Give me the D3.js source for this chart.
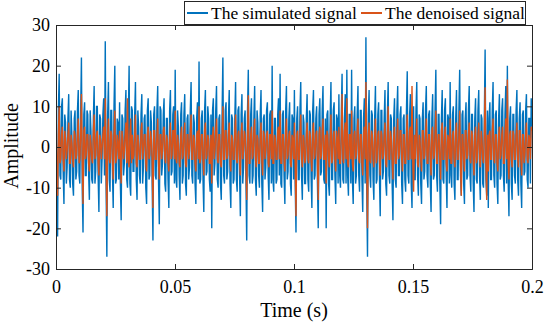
<!DOCTYPE html>
<html>
<head>
<meta charset="utf-8">
<script src="https://cdn.jsdelivr.net/npm/d3@7"></script>
<style>
    body { margin: 0; background: #fff; }
    text { font-family: "Liberation Serif", "Times New Roman", serif; fill: #000; }
</style>
</head>
<body>
<div id="chart"></div>
<script>
const seriesNames = ["The simulated signal", "The denoised signal"];
const xTicks = [0, 0.05, 0.1, 0.15, 0.2];
const yTicks = [-30, -20, -10, 0, 10, 20, 30];

// simulated signal, 600 samples over 0..0.2 s
const simulated = [
    5, -8, -22, 9, 18, -7, -8, 10, 12, -6, -14, 8, 6, -9, -5, 7, 13, -8, -10, 9,
    3, -9, -12, 7, 9, -8, -6, 9, 14, -7, -9, 8, 22, -10, -21, 8, 11, -7, -7, 9,
    8, -6, -13, 9, 4, -8, -9, 7, 15, -9, -6, 10, 10, -7, -16, 8, 7, -9, -3, 8,
    12, -7, 26, -9, -27, 8, 16, -8, -11, 9, 9, -6, -15, 10, 20, -9, -8, 7, 6, -8,
    11, -9, -18, 8, 7, -7, -4, 9, 14, -8, -10, 7, 20, -9, -12, 10, 9, -6, -6, 8,
    16, -8, -13, 9, 5, -7, -9, 8, 13, -9, -5, 7, 8, -10, -14, 9, 12, -8, -7, 9,
    6, -9, -23, 8, 10, -7, -8, 9, 15, -8, -19, 10, 9, -7, -4, 8, 12, -9, -11, 7,
    7, -8, -15, 9, 14, -7, -6, 8, 10, -9, 19, -8, -10, 9, 5, -7, -13, 8, 11, -9,
    -7, 8, 13, -9, -12, 7, 8, -8, -5, 9, 16, -7, -9, 8, 6, -9, -14, 7, 11, -8,
    21, -9, -8, 7, 9, -8, -16, 9, 14, -7, -6, 10, 7, -8, -11, 8, -20, 9, 12, -7,
    -4, 9, 15, -8, -10, 7, 8, -9, -13, 8, 22, -7, -9, 9, 11, -8, -6, 7, 14, -9,
    -15, 8, 7, -9, -8, 7, 16, -8, -11, 9, 10, -7, -17, 8, 13, -9, -5, 7, 9, -8,
    -23, 9, 19, -7, -9, 8, 12, -9, -7, 7, 15, -8, -12, 9, 6, -7, -10, 8, 14, -9,
    -16, 7, 8, -8, -5, 9, 11, -7, -13, 8, 9, -9, 20, -8, -11, 7, 7, -9, -8, 8,
    12, -7, 18, -9, -10, 8, 9, -7, -14, 9, 15, -8, -6, 7, 11, -9, -12, 8, 7, -8,
    14, -9, -21, 7, 10, -8, -8, 9, 16, -7, -13, 8, 6, -9, -9, 7, 13, -8, -11, 9,
    8, -7, -15, 9, 14, -8, -7, 7, 10, -9, -20, 8, 12, -7, -6, 9, 15, -8, -9, 7,
    -20, 8, 9, -9, -12, 7, 16, -8, -8, 9, 11, -7, -14, 8, 7, -9, 13, -7, -10, 8,
    18, -8, -9, 7, 13, -9, 19, -7, -12, 8, 8, -9, 19, -8, -14, 7, 10, -9, -7, 8,
    15, -7, -11, 9, 9, -8, -16, 7, 12, -9, 27, -10, -27, 8, 14, -7, -10, 9, 8, -8,
    -13, 7, 15, -9, -8, 8, 11, -7, -17, 9, 9, -8, -6, 7, 14, -9, -12, 8, 16, -7,
    -9, 8, 7, -9, -18, 7, 12, -8, -10, 9, 15, -7, -7, 8, 10, -9, -14, 7, 8, -8,
    -11, 9, 18.6, -7, -9, 8, 13, -9, -15, 7, 10, -8, -8, 9, 16, -7, -12, 8, 7, -9,
    -14, 7, 11, -8, -6, 9, 15, -7, -10, 8, 9, -9, -16, 7, 13, -8, -7, 9, 19, -7,
    -11, 8, 8, -9, -19, 7, 14, -8, -9, 9, 12, -7, -15, 8, 7, -9, 16, -7, -10, 8,
    10, -9, -13, 7, 14, -8, -8, 9, 19, -7, -12, 8, 9, -9, -14, 7, 11, -8, -7, 9,
    15, -7, -11, 8, 8, -9, -16, 7, 12, -8, -9, 9, 14, -7, -13, 8, 7, -9, -10, 7,
    24, -8, -12, 9, -15, 7, 11, -8, -8, 9, 16, -7, -10, 8, 9, -9, -14, 7, 13, -8,
    -7, 9, 12, -7, -11, 8, 15, -9, 20, -8, -17, 7, 10, -9, -13, 8, 8, -7, -9, 9,
    14, -8, -12, 7, 11, -9, -15, 8, 9, -7, -6, 9, 13, -8, -10, 7, 7, -9, 12, 5
];

// denoised signal, same sample times
const denoised = [
    4, -3, -12, 3, 10, -4, -3, 3, 5, -3, -6, 4, 2, -3, -1, 3, 6, -4, -4, 3,
    1, -3, -5, 4, 3, -3, -2, 3, 7, -4, -3, 3, 13, -3, -14, 4, 5, -3, -2, 3,
    3, -4, -6, 3, 1, -3, -4, 4, 8, -3, -2, 3, 4, -4, -7, 3, 2, -3, 0, 3,
    5, -3, 12, -4, -17, 3, 7, -3, -4, 4, 3, -3, -8, 3, 9, -4, -3, 3, 1, -3,
    4, -3, -9, 4, 2, -3, -1, 3, 6, -4, 12, -3, -5, 3, 7, -4, 3, -3, -2, 3,
    8, -4, -5, 3, 1, -3, -3, 4, 6, -3, -1, 3, 3, -4, -6, 3, 5, -3, -2, 4,
    2, -3, -15, 4, 4, -3, -3, 3, 7, -4, -8, 3, 3, -3, -1, 4, 5, -3, -4, 3,
    2, -4, -6, 3, 6, -3, -2, 4, 4, -3, 9, -3, -4, 3, 1, -4, -5, 3, 5, -3,
    -2, 3, 6, -4, -5, 3, 3, -3, -1, 4, 8, -3, -3, 3, 2, -4, -6, 3, 4, -3,
    10, -4, -3, 3, 3, -3, -7, 4, 6, -3, -2, 3, 2, -4, -4, 3, -9, 3, 5, -3,
    -1, 4, 7, -3, -4, 3, 3, -4, -5, 3, 10, -3, -3, 4, 4, -3, -2, 3, 6, -4,
    -6, 3, 2, -3, -3, 4, 8, -3, -4, 3, 4, -4, -7, 3, 6, -3, -1, 4, 3, -3,
    -13, 3, 12.7, -4, -4, 3, 5, -3, -2, 4, 7, -3, -5, 3, 2, -4, -4, 3, 6, -3,
    -7, 4, 3, -3, -1, 3, 4, -4, -5, 3, 3, -3, 9, -4, -4, 3, 2, -3, -3, 4,
    5, -3, 9, -4, -4, 3, 3, -3, -6, 4, 7, -3, -2, 3, 4, -4, -5, 3, 2, -3,
    6, -4, -17, 3, 4, -3, -3, 4, 8, -3, -5, 3, 2, -4, -3, 3, 6, -3, -4, 4,
    3, -3, -6, 4, 6, -3, -2, 3, 4, -4, -13, 3, 5, -3, -2, 4, 7, -3, -3, 3,
    -9, 4, 3, -3, -5, 3, 8, -4, -3, 3, 4, -3, -6, 4, 2, -3, 5, -4, -4, 3,
    13, -3, -4, 4, 6, -3, 12, -4, -5, 3, 3, -3, 9, -4, -6, 3, 4, -3, -2, 4,
    7, -3, -4, 3, 3, -4, -7, 3, 5, -3, 16, -4, -20, 3, 6, -3, -4, 4, 3, -3,
    -5, 3, 7, -4, -3, 3, 4, -3, -7, 4, 3, -3, -2, 3, 6, -4, -5, 3, 10, -3,
    -3, 4, 2, -3, -8, 3, 5, -4, -4, 3, 7, -3, -2, 4, 4, -3, -6, 3, 3, -4,
    -4, 3, 8, -3, -3, 4, 5, -3, 15, -4, -11, 3, -3, 3, 7, -4, -5, 3, 2, -3,
    -6, 4, 4, -3, -2, 3, 7, -4, -4, 3, 3, -3, -7, 4, 5, -3, -2, 3, 9, -4,
    -4, 3, 3, -3, -8, 4, 6, -3, -3, 3, 5, -4, -6, 3, 2, -3, 7, -4, -4, 3,
    4, -3, -5, 4, 6, -3, -3, 3, 9, -4, -12, 3, 3, -3, -6, 4, 4, -3, -2, 3,
    6, -3, -4, 4, 3, -3, -7, 3, 5, -4, -3, 3, 6, -3, -5, 4, 2, -3, -4, 3,
    14.7, -4, -13, 3, -6, 3, 4, -3, -3, 4, 7, -3, -4, 3, 3, -4, -6, 3, 5, -3,
    -2, 3, 5, -4, -4, 3, 7, -3, 16.6, -4, -8, 3, 4, -3, -5, 4, 3, -3, -3, 3,
    6, -3, -5, 4, 4, -3, -7, 3, 3, -4, -2, 3, 6, -3, -4, 3, 2, -3, 5, 4
];

const seriesColor = d3.scaleOrdinal()
    .domain(seriesNames)
    .range(["#0072BD", "#D95319"]);

const margin = { top: 25, right: 18, bottom: 57, left: 56 },
    width = 550 - margin.left - margin.right,
    height = 326 - margin.top - margin.bottom;

const svg = d3.select("#chart").append("svg")
    .attr("width", 550)
    .attr("height", 326);

const g = svg.append("g")
    .attr("transform", `translate(${margin.left}, ${margin.top})`);

const x = d3.scaleLinear().domain([0, 0.2]).range([0, width]);
const y = d3.scaleLinear().domain([-30, 30]).range([height, 0]);

const step = 0.2 / (simulated.length - 1);

svg.append("defs").append("clipPath").attr("id", "plotClip")
    .append("rect").attr("width", width).attr("height", height);

const line = d3.line()
    .x((d, i) => x(i * step))
    .y(d => y(d));

const plot = g.append("g").attr("clip-path", "url(#plotClip)");

[simulated, denoised].forEach((s, k) => {
    plot.append("path")
        .datum(s)
        .attr("fill", "none")
        .attr("stroke", seriesColor(seriesNames[k]))
        .attr("stroke-width", 1.4)
        .attr("d", line);
});

// axes, MATLAB style with inward ticks and box
const axisColor = "#262626";

const xAxis = g.append("g")
    .attr("transform", `translate(0, ${height})`)
    .call(d3.axisBottom(x).tickValues(xTicks).tickSize(-5).tickPadding(11).tickFormat(d => String(d)));
const xTop = g.append("g")
    .call(d3.axisTop(x).tickValues(xTicks).tickSize(-5).tickFormat(""));
const yAxis = g.append("g")
    .call(d3.axisLeft(y).tickValues(yTicks).tickSize(-5).tickPadding(6).tickFormat(d => String(d)));
const yRight = g.append("g")
    .attr("transform", `translate(${width}, 0)`)
    .call(d3.axisRight(y).tickValues(yTicks).tickSize(-5).tickFormat(""));

[xAxis, xTop, yAxis, yRight].forEach(a => {
    a.attr("font-family", "'Liberation Serif', serif");
    a.select(".domain").attr("stroke", axisColor).attr("stroke-width", 1);
    a.selectAll(".tick line").attr("stroke", axisColor);
    a.selectAll(".tick text")
        .attr("fill", "#000")
        .style("font-size", "18px")
        .style("font-family", "'Liberation Serif', serif");
});

g.append("text")
    .attr("x", width / 2)
    .attr("y", 317 - margin.top)
    .attr("text-anchor", "middle")
    .style("font-size", "20px")
    .text("Time (s)");

g.append("text")
    .attr("transform", `translate(${17.5 - margin.left}, ${146 - margin.top}) rotate(-90)`)
    .attr("text-anchor", "middle")
    .style("font-size", "20px")
    .text("Amplitude");

// legend
const legend = svg.append("g");
legend.append("rect")
    .attr("x", 184.5).attr("y", 1.5)
    .attr("width", 341).attr("height", 23)
    .attr("fill", "#fff")
    .attr("stroke", axisColor)
    .attr("stroke-width", 1);

const legendItems = [
    { name: seriesNames[0], x0: 187 },
    { name: seriesNames[1], x0: 361 }
];
legendItems.forEach(it => {
    legend.append("line")
        .attr("x1", it.x0).attr("x2", it.x0 + 21)
        .attr("y1", 13).attr("y2", 13)
        .attr("stroke", seriesColor(it.name))
        .attr("stroke-width", 2);
    legend.append("text")
        .attr("x", it.x0 + 24)
        .attr("y", 19)
        .style("font-size", "17.5px")
        .text(it.name);
});
</script>
</body>
</html>
